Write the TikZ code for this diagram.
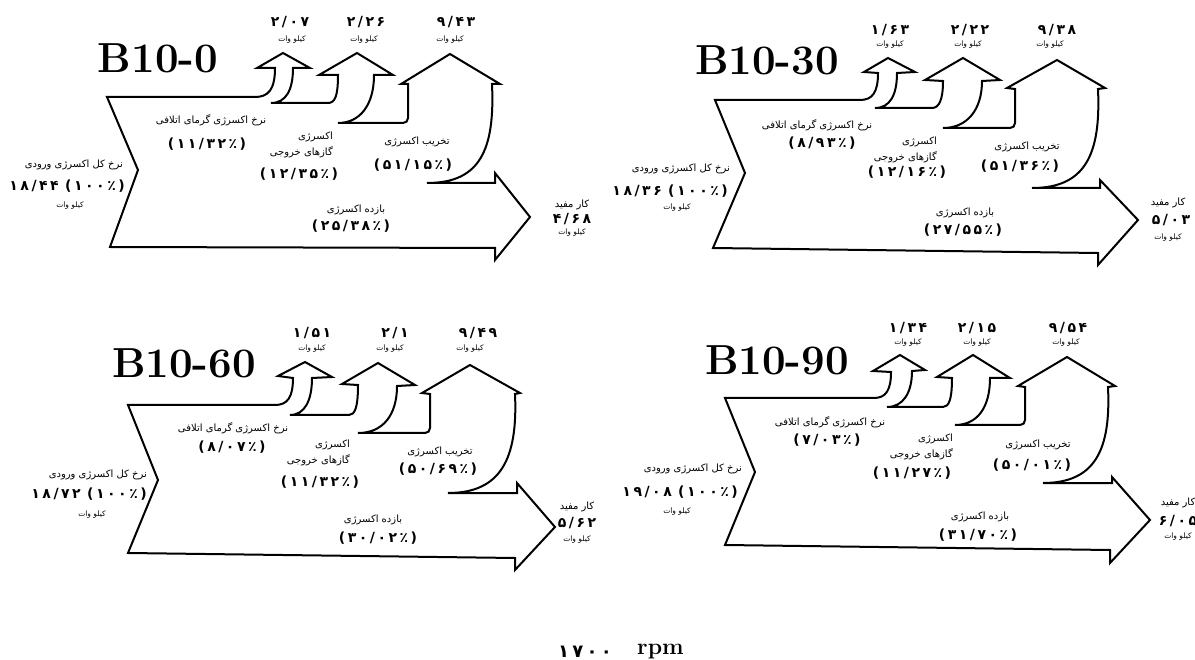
\documentclass[tikz,border=0pt]{standalone}
\usepackage{fontspec}
\newfontfamily\farsifont[Script=Arabic]{DejaVu Sans}
\newfontfamily\farsinum[Script=Arabic, LetterSpace=18]{DejaVu Sans}
\TeXXeTstate=1
\usepackage{tikz}
\usetikzlibrary{positioning}

\begin{document}
\begin{tikzpicture}[
  x=1pt, y=-1pt,
  every node/.style={inner sep=0pt},
  flow/.style={draw=black, line width=2pt, fill=white},
  title/.style={font=\fontsize{42}{42}\selectfont\bfseries},
  val/.style={font=\farsinum\fontsize{14}{14}\selectfont\bfseries},
  pct/.style={font=\farsinum\fontsize{14}{14}\selectfont\bfseries},
  lbl/.style={font=\farsifont\fontsize{10}{16}\selectfont},
  unit/.style={font=\farsifont\fontsize{7.5}{8}\selectfont}
]
\useasboundingbox (0,0) rectangle (1195,660);

% B10-0
\draw[flow] (107,97) -- (255,97)
  .. controls (268,97) and (275,90) .. (275,68) -- (257,68) -- (283,53) -- (310,68) -- (293,68)
  .. controls (293,90) and (286,103) .. (271,103) -- (328,103)
  .. controls (335,103) and (338,96) .. (338,75) -- (319,75) -- (357,53) -- (393,75) -- (374,75)
  .. controls (374,105) and (360,123) .. (338,123) -- (403,123)
  .. controls (406,123) and (408,121) .. (408,118) -- (408,84) -- (401,84) -- (450,54) -- (500,84) -- (492,84)
  .. controls (495,150) and (480,183) .. (427,183) -- (495,183) -- (495,173) -- (530,217) -- (495,260) -- (495,248)
  -- (110,247) -- (138,170) -- cycle;
\node[title] (title0) at (158,58) {B10-0};
\node[val] (heat0) at (290,22) {۲/۰۷};
\node[unit] (heatkw0) at (292,40) {\beginR کیلو وات\endR};
\node[val] (gas0) at (366,22) {۲/۲۶};
\node[unit] (gaskw0) at (364,40) {\beginR کیلو وات\endR};
\node[val] (dest0) at (456,22) {۹/۴۳};
\node[unit] (destkw0) at (450,40) {\beginR کیلو وات\endR};
\node[lbl] (heatlbl0) at (211,120) {\beginR نرخ اکسرژی گرمای اتلافی\endR};
\node[pct] (heatpct0) at (207,144) {(۱۱/۳۲٪)};
\node[lbl, align=right, anchor=east] (gaslbl0) at (333,145) {\beginR اکسرژی\endR\\\beginR گازهای خروجی\endR};
\node[pct] (gaspct0) at (299,174) {(۱۲/۳۵٪)};
\node[lbl] (destlbl0) at (417,142) {\beginR تخریب اکسرژی\endR};
\node[pct] (destpct0) at (413,165) {(۵۱/۱۵٪)};
\node[lbl] (efflbl0) at (356,210) {\beginR بازده اکسرژی\endR};
\node[pct] (effpct0) at (351,226) {(۲۵/۳۸٪)};
\node[lbl, anchor=east] (inlbl0) at (123,165) {\beginR نرخ کل اکسرژی ورودی\endR};
\node[pct, anchor=east] (inpct0) at (125,186) {(۱۰۰٪)};
\node[pct, left=6pt of inpct0] (in0) {۱۸/۴۴};
\node[unit] (inkw0) at (70,206) {\beginR کیلو وات\endR};
\node[lbl] (worklbl0) at (572,205) {\beginR کار مفید\endR};
\node[val] (work0) at (572,219) {۴/۶۸};
\node[unit] (workkw0) at (572,233) {\beginR کیلو وات\endR};

% B10-30
\draw[flow] (715,100) -- (860,100)
  .. controls (872,100) and (878,93) .. (878,73) -- (864,72) -- (888,58) -- (915,72) -- (897,73)
  .. controls (897,95) and (890,108) .. (875,108) -- (932,108)
  .. controls (939,108) and (943,100) .. (943,81) -- (925,80) -- (963,58) -- (1000,80) -- (982,81)
  .. controls (982,110) and (967,128) .. (943,128) -- (1010,128)
  .. controls (1013,128) and (1015,126) .. (1015,123) -- (1015,89) -- (1007,88) -- (1057,60) -- (1105,88) -- (1098,89)
  .. controls (1101,155) and (1085,188) .. (1032,188) -- (1100,188) -- (1100,180) -- (1138,220) -- (1098,265) -- (1098,253)
  -- (713,248) -- (745,173) -- cycle;
\node[title] (title1) at (767,60) {B10-30};
\node[val] (heat1) at (890,30) {۱/۶۳};
\node[unit] (heatkw1) at (890,45) {\beginR کیلو وات\endR};
\node[val] (gas1) at (970,30) {۲/۲۲};
\node[unit] (gaskw1) at (968,45) {\beginR کیلو وات\endR};
\node[val] (dest1) at (1057,30) {۹/۳۸};
\node[unit] (destkw1) at (1050,45) {\beginR کیلو وات\endR};
\node[lbl] (heatlbl1) at (817,125) {\beginR نرخ اکسرژی گرمای اتلافی\endR};
\node[pct] (heatpct1) at (822,143) {(۸/۹۳٪)};
\node[lbl, align=right, anchor=east] (gaslbl1) at (937,150) {\beginR اکسرژی\endR\\\beginR گازهای خروجی\endR};
\node[pct] (gaspct1) at (907,172) {(۱۲/۱۶٪)};
\node[lbl] (destlbl1) at (1027,147) {\beginR تخریب اکسرژی\endR};
\node[pct] (destpct1) at (1020,166) {(۵۱/۳۶٪)};
\node[lbl] (efflbl1) at (965,213) {\beginR بازده اکسرژی\endR};
\node[pct] (effpct1) at (963,230) {(۲۷/۵۵٪)};
\node[lbl, anchor=east] (inlbl1) at (730,169) {\beginR نرخ کل اکسرژی ورودی\endR};
\node[pct, anchor=east] (inpct1) at (728,191) {(۱۰۰٪)};
\node[pct, left=6pt of inpct1] (in1) {۱۸/۳۶};
\node[unit] (inkw1) at (677,208) {\beginR کیلو وات\endR};
\node[lbl] (worklbl1) at (1168,203) {\beginR کار مفید\endR};
\node[val] (work1) at (1171,220) {۵/۰۳};
\node[unit] (workkw1) at (1168,238) {\beginR کیلو وات\endR};

% B10-60
\draw[flow] (128,405) -- (275,405)
  .. controls (287,405) and (293,398) .. (293,378) -- (278,376) -- (305,362) -- (332,377) -- (312,378)
  .. controls (312,400) and (305,415) .. (290,415) -- (349,415)
  .. controls (355,415) and (358,407) .. (358,385) -- (342,384) -- (378,363) -- (415,385) -- (397,386)
  .. controls (397,415) and (383,433) .. (358,433) -- (425,433)
  .. controls (428,433) and (430,431) .. (430,428) -- (430,394) -- (422,393) -- (470,365) -- (520,393) -- (515,394)
  .. controls (518,460) and (500,493) .. (448,493) -- (517,493) -- (517,483) -- (555,527) -- (515,570) -- (515,558)
  -- (128,553) -- (158,480) -- cycle;
\node[title] (title2) at (184,363) {B10-60};
\node[val] (heat2) at (312,333) {۱/۵۱};
\node[unit] (heatkw2) at (312,349) {\beginR کیلو وات\endR};
\node[val] (gas2) at (395,333) {۲/۱};
\node[unit] (gaskw2) at (390,349) {\beginR کیلو وات\endR};
\node[val] (dest2) at (478,333) {۹/۴۹};
\node[unit] (destkw2) at (470,349) {\beginR کیلو وات\endR};
\node[lbl] (heatlbl2) at (233,428) {\beginR نرخ اکسرژی گرمای اتلافی\endR};
\node[pct] (heatpct2) at (232,447) {(۸/۰۷٪)};
\node[lbl, align=right, anchor=east] (gaslbl2) at (350,453) {\beginR اکسرژی\endR\\\beginR گازهای خروجی\endR};
\node[pct] (gaspct2) at (320,482) {(۱۱/۳۲٪)};
\node[lbl] (destlbl2) at (440,452) {\beginR تخریب اکسرژی\endR};
\node[pct] (destpct2) at (438,469) {(۵۰/۶۹٪)};
\node[lbl] (efflbl2) at (373,520) {\beginR بازده اکسرژی\endR};
\node[pct] (effpct2) at (378,538) {(۳۰/۰۲٪)};
\node[lbl, anchor=east] (inlbl2) at (147,475) {\beginR نرخ کل اکسرژی ورودی\endR};
\node[pct, anchor=east] (inpct2) at (147,494) {(۱۰۰٪)};
\node[pct, left=6pt of inpct2] (in2) {۱۸/۷۲};
\node[unit] (inkw2) at (92,515) {\beginR کیلو وات\endR};
\node[lbl] (worklbl2) at (577,507) {\beginR کار مفید\endR};
\node[val] (work2) at (577,523) {۵/۶۲};
\node[unit] (workkw2) at (577,540) {\beginR کیلو وات\endR};

% B10-90
\draw[flow] (725,398) -- (874,398)
  .. controls (886,398) and (891,390) .. (891,372) -- (873,371) -- (900,355) -- (925,370) -- (912,371)
  .. controls (912,393) and (903,407) .. (887,407) -- (943,407)
  .. controls (949,407) and (952,399) .. (952,378) -- (937,377) -- (973,355) -- (1010,378) -- (990,378)
  .. controls (990,408) and (977,425) .. (955,425) -- (1020,425)
  .. controls (1023,425) and (1025,423) .. (1025,420) -- (1025,387) -- (1018,386) -- (1067,357) -- (1115,386) -- (1108,387)
  .. controls (1111,450) and (1095,483) .. (1043,483) -- (1112,483) -- (1112,477) -- (1150,520) -- (1110,563) -- (1110,550)
  -- (725,545) -- (755,472) -- cycle;
\node[title] (title3) at (777,360) {B10-90};
\node[val] (heat3) at (908,328) {۱/۳۴};
\node[unit] (heatkw3) at (908,343) {\beginR کیلو وات\endR};
\node[val] (gas3) at (977,328) {۲/۱۵};
\node[unit] (gaskw3) at (977,343) {\beginR کیلو وات\endR};
\node[val] (dest3) at (1068,328) {۹/۵۴};
\node[unit] (destkw3) at (1066,343) {\beginR کیلو وات\endR};
\node[lbl] (heatlbl3) at (830,422) {\beginR نرخ اکسرژی گرمای اتلافی\endR};
\node[pct] (heatpct3) at (827,440) {(۷/۰۳٪)};
\node[lbl, align=right, anchor=east] (gaslbl3) at (953,447) {\beginR اکسرژی\endR\\\beginR گازهای خروجی\endR};
\node[pct] (gaspct3) at (912,473) {(۱۱/۲۷٪)};
\node[lbl] (destlbl3) at (1038,445) {\beginR تخریب اکسرژی\endR};
\node[pct] (destpct3) at (1032,465) {(۵۰/۰۱٪)};
\node[lbl] (efflbl3) at (980,517) {\beginR بازده اکسرژی\endR};
\node[pct] (effpct3) at (978,535) {(۳۱/۷۰٪)};
\node[lbl, anchor=east] (inlbl3) at (742,469) {\beginR نرخ کل اکسرژی ورودی\endR};
\node[pct, anchor=east] (inpct3) at (738,492) {(۱۰۰٪)};
\node[pct, left=6pt of inpct3] (in3) {۱۹/۰۸};
\node[unit] (inkw3) at (677,512) {\beginR کیلو وات\endR};
\node[lbl] (worklbl3) at (1178,503) {\beginR کار مفید\endR};
\node[val] (work3) at (1178,521) {۶/۰۵};
\node[unit] (workkw3) at (1178,537) {\beginR کیلو وات\endR};

% speed
\node[font=\farsinum\fontsize{18}{18}\selectfont\bfseries] (speed) at (585,652) {۱۷۰۰};
\node[font=\fontsize{23}{23}\selectfont\bfseries, right=25pt of speed] (rpm) {rpm};
\end{tikzpicture}
\end{document}
